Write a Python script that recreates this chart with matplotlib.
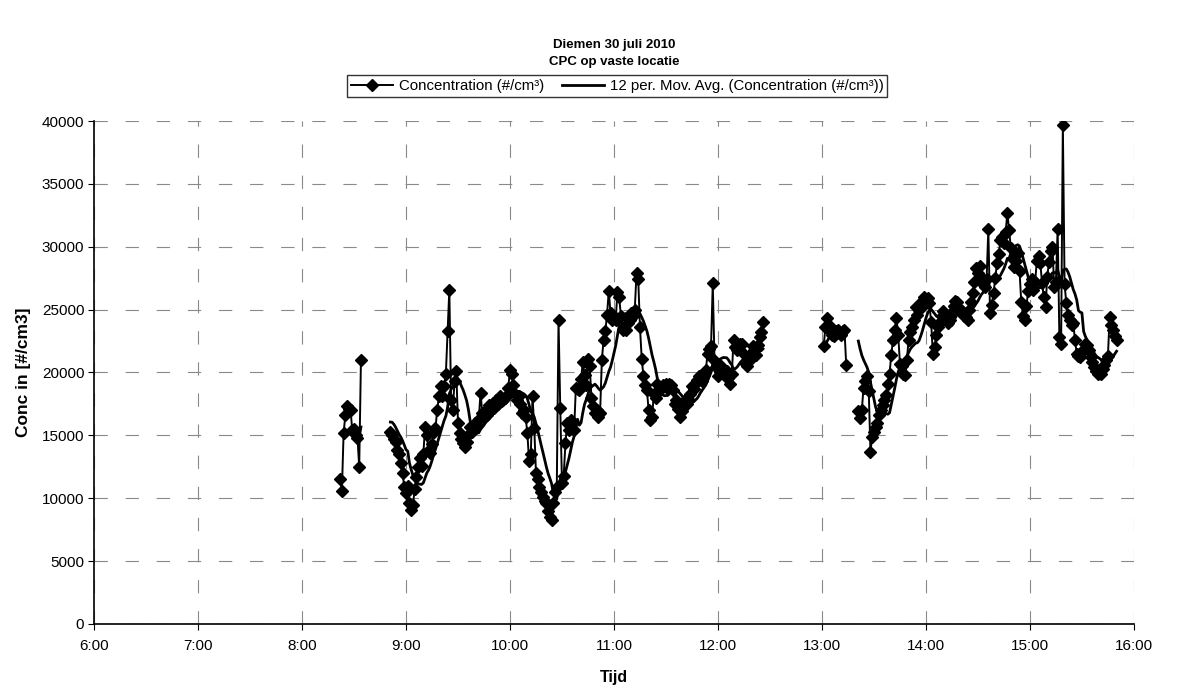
import matplotlib.pyplot as plt
import matplotlib.dates as mdates
import numpy as np
import pandas as pd

plt.rcParams['font.family'] = ['Liberation Sans', 'DejaVu Sans']

dag = "2010-07-30"

# CPC metingen, 1 waarde per minuut, met gaten tussen de blokken
blok1_start = "08:22"
blok1 = [11500, 10600, 15200, 16600, 17300, 17100, 17000, 15400, 15500, 15000,
         14800, 12500, 21000]

blok2_start = "08:51"
blok2 = [15300, 15000, 14700, 14500, 13800, 13500, 12800, 12000, 10900, 10400,
         11000, 9600, 9100, 9500, 10700, 11700, 12500, 13200, 12600, 13500,
         15700, 15000, 13800, 13600, 14300, 15300, 15600, 17000, 18100, 18900,
         18100, 18900, 19900, 23300, 26600, 17800, 17000, 19300, 20100, 16000,
         15200, 14700, 14400, 14100, 14500, 15000, 15700, 15300, 15500, 16000,
         15800, 16300, 18400, 16800, 16400, 17000, 16600, 17400, 17000, 17600,
         17200, 17800, 17500, 18100, 17700, 17900, 18000, 18200, 18800, 20200,
         19900, 19000, 18300, 17800, 18100, 17500, 16800, 17000, 16500, 15200,
         13000, 13500, 18100, 15600, 12000, 11500, 10900, 10500, 10100, 9800,
         9600, 9000, 8500, 8300, 9600, 10500, 10900, 24200, 17200, 11200,
         11800, 14400, 16000, 15400, 16200, 16000, 15400, 18800, 18700, 18600,
         19500, 20800, 19800, 19000, 21100, 20500, 18000, 17300, 16800, 17000,
         16500, 16800, 21000, 22600, 23300, 24600, 26500, 24700, 24200, 24400,
         24200, 26400, 26000, 24500, 23400, 23600, 23400, 23900, 24200, 24700,
         24500, 25000, 27900, 27400, 23600, 21100, 19700, 19000, 18600, 17000,
         16200, 16500, 18300, 18000, 19100, 18500, 18800, 19000, 18900, 19100,
         18700, 19100, 19000, 18600, 17500, 17800, 17100, 16500, 16900, 17300,
         17800, 17500, 17800, 18300, 18900, 18700, 19100, 19400, 19700, 19500,
         19300, 19800, 20200, 21500, 21900, 22100, 27100, 21000, 20400, 19700,
         20000, 20500, 20100, 19700, 20100, 19600, 19100, 19900, 22600, 22000,
         21800, 22100, 22300, 22300, 21500, 20700, 20500, 20900, 21500, 22100,
         21800, 21400, 22200, 22800, 23200, 24000]

blok3_start = "13:01"
blok3 = [22100, 23600, 24300, 23800, 23200, 23000, 22900, 23300, 23400, 23200,
         23000, 23300, 23400, 20600]

blok4_start = "13:21"
blok4 = [16900, 16400, 17000, 18800, 19300, 19700, 18500, 13700, 14900, 15300,
         15700, 16000, 16600, 17000, 17400, 17800, 18200, 19100, 19900, 21400,
         22600, 23400, 24300, 23000, 20700, 20500, 19900, 19800, 21000, 22600,
         23200, 23600, 24200, 25200, 24600, 25000, 25200, 25700, 26000, 25500,
         25900, 25500, 24000, 21500, 22000, 23000, 23600, 24000, 24500, 24900,
         24400, 24100, 23900, 24200, 24800, 25300, 25700, 25600, 25100, 24800,
         24900, 24500, 24400, 24200, 25000, 25600, 26300, 27200, 28300, 27900,
         28500, 27600, 27000, 26800, 27400, 31400, 24700, 25400, 26300, 27500,
         28700, 29400, 30500, 30800, 30300, 31200, 32700, 31300, 29900, 29000,
         28400, 28900, 29500, 28100, 25600, 24500, 24200, 25300, 26500, 27000,
         27400, 26600, 27200, 28900, 29300, 28700, 27100, 26000, 25200, 27600,
         28800, 29700, 30000, 26800, 27200, 31400, 22800, 22300, 39700, 27000,
         25500, 24600, 24200, 23800, 23900, 22600, 21500, 21300, 21200, 21600,
         21900, 22300, 22200, 21800, 21200, 20800, 20400, 20100, 19900, 20200,
         19900, 20300, 20600, 21000, 21300, 24400, 23800, 23400, 22900, 22600]

blokken = [(blok1_start, blok1), (blok2_start, blok2),
           (blok3_start, blok3), (blok4_start, blok4)]

# 12 per. Mov. Avg. over alle punten achter elkaar (zoals Excel)
alles = np.concatenate([np.array(b, dtype=float) for _, b in blokken])
gem = pd.Series(alles).rolling(12).mean().to_numpy()

fig = plt.figure(figsize=(11.83, 6.86), dpi=100)
ax = fig.add_axes([0.0795, 0.0904, 0.879, 0.7332])

i = 0
for start, waarden in blokken:
    tijd = pd.date_range(f"{dag} {start}", periods=len(waarden), freq="min")
    ax.plot(tijd, waarden, color='black', lw=1.4, marker='D', ms=6,
            mec='black', mfc='black')
    ax.plot(tijd, gem[i:i + len(waarden)], color='black', lw=2)
    i += len(waarden)

ax.set_xlim(pd.Timestamp(f"{dag} 06:00"), pd.Timestamp(f"{dag} 16:00"))
ax.set_ylim(0, 40000)
ax.set_yticks(np.arange(0, 40001, 5000))
ax.xaxis.set_major_locator(mdates.HourLocator())
ax.xaxis.set_major_formatter(
    plt.FuncFormatter(lambda x, p: f"{mdates.num2date(x).hour}:00"))
ax.tick_params(labelsize=11, direction='out', length=4, width=0.8)
ax.tick_params(axis='x', pad=7)
ax.tick_params(axis='y', pad=3)

ax.grid(True, color='#8a8a8a', lw=0.8, ls=(0, (12, 16)))
ax.set_axisbelow(True)
for s in ['top', 'right']:
    ax.spines[s].set_visible(False)
for s in ['left', 'bottom']:
    ax.spines[s].set_linewidth(1.2)

ax.set_xlabel("Tijd", fontsize=11.5, fontweight='bold', labelpad=12)
ax.set_ylabel("Conc in [#/cm3]", fontsize=12.5, fontweight='bold', labelpad=8)

fig.text(0.519, 0.935, "Diemen 30 juli 2010", ha='center', va='center',
         fontsize=9.5, fontweight='bold')
fig.text(0.519, 0.910, "CPC op vaste locatie", ha='center', va='center',
         fontsize=9.5, fontweight='bold')

h1 = plt.Line2D([], [], color='black', lw=1.4, marker='D', ms=6)
h2 = plt.Line2D([], [], color='black', lw=2)
leg = ax.legend([h1, h2], ["Concentration (#/cm³)",
                           "12 per. Mov. Avg. (Concentration (#/cm³))"],
                loc='lower center', bbox_to_anchor=(0.503, 1.048), ncol=2,
                borderaxespad=0, fontsize=10.8, frameon=True, fancybox=False,
                edgecolor='black', borderpad=0.25, handlelength=2.8,
                columnspacing=1.2, handletextpad=0.4)
leg.get_frame().set_linewidth(1)

fig.savefig("out.png", dpi=100)
